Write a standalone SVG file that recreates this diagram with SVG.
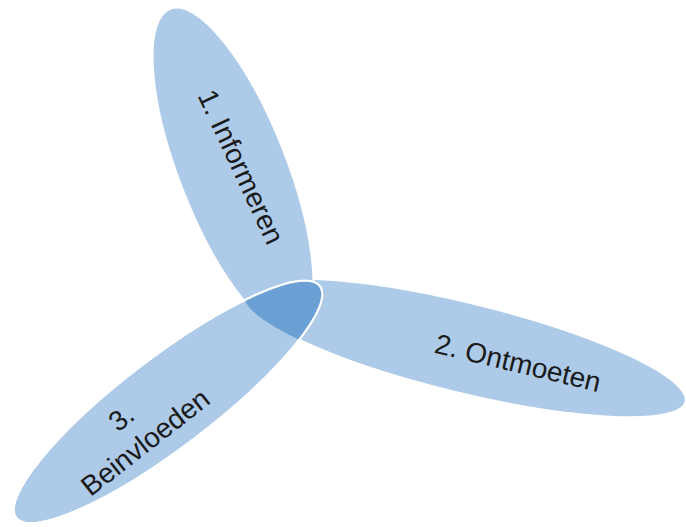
<svg xmlns="http://www.w3.org/2000/svg" xmlns:xlink="http://www.w3.org/1999/xlink" width="686" height="527" viewBox="0 0 686 527">
  <style>
    .petal { fill: #adcbe9; stroke: #ffffff; stroke-width: 2; }
    .outline { fill: none; stroke: #ffffff; stroke-width: 2; }
    .core { fill: #6ba0d5; }
    .label { font-family: "Liberation Sans", Arial, sans-serif; font-size: 28px; fill: #1a1a1a; text-anchor: middle; dominant-baseline: central; }
  </style>
  <defs>
    <ellipse id="e1" cx="0" cy="0" rx="173" ry="54" transform="translate(233 170) rotate(68.7)"/>
    <ellipse id="e2" cx="0" cy="0" rx="227" ry="45" transform="translate(465 348) rotate(13.7)"/>
    <ellipse id="e3" cx="0" cy="0" rx="191" ry="45" transform="translate(168 402) rotate(-37.35)"/>
    <clipPath id="clip3">
      <use xlink:href="#e3"/>
    </clipPath>
  </defs>

  <g id="node-ontmoeten">
    <use xlink:href="#e2" class="petal"/>
    <text class="label" x="518" y="363" transform="rotate(13.5 518 363)">2. Ontmoeten</text>
  </g>

  <g id="node-informeren">
    <use xlink:href="#e1" class="petal"/>
    <text class="label" x="241" y="167" transform="rotate(65 241 167)">1. Informeren</text>
  </g>

  <g id="node-beinvloeden">
    <use xlink:href="#e3" class="petal"/>
    <g id="overlap" clip-path="url(#clip3)">
      <use xlink:href="#e2" class="core"/>
    </g>
    <use xlink:href="#e3" class="outline"/>
    <text class="label" transform="rotate(-38 145 442)">
      <tspan x="145" y="408">3.</tspan>
      <tspan x="145" y="442">Beinvloeden</tspan>
    </text>
  </g>

  <g id="connectors"/>
</svg>
